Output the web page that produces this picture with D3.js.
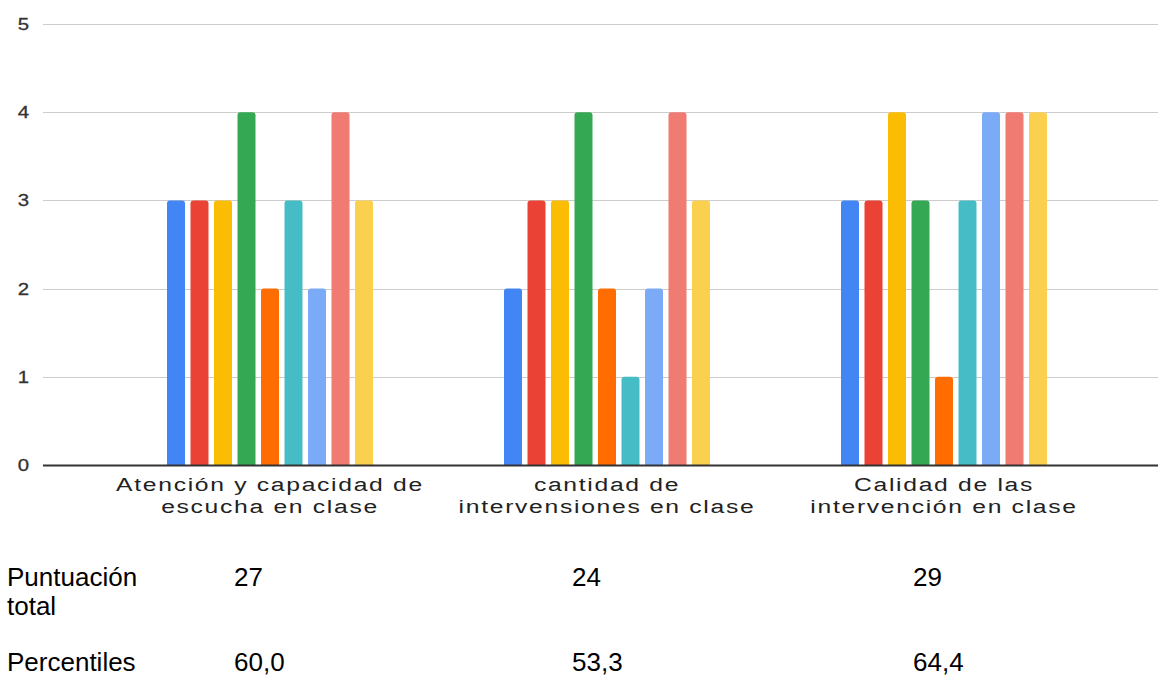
<!DOCTYPE html>
<html><head><meta charset="utf-8">
<script src="https://cdn.jsdelivr.net/npm/d3@7"></script>
<style>html,body{margin:0;padding:0;background:#fff;}svg{display:block;}</style>
</head><body>
<svg id="c" width="1158" height="676"></svg>
<script>
const categories = [
  ["Atención y capacidad de", "escucha en clase"],
  ["cantidad de", "intervensiones en clase"],
  ["Calidad de las", "intervención en clase"]
];
const s1 = [3, 2, 3];
const s2 = [3, 3, 3];
const s3 = [3, 3, 4];
const s4 = [4, 4, 3];
const s5 = [2, 2, 1];
const s6 = [3, 1, 3];
const s7 = [2, 2, 4];
const s8 = [4, 4, 4];
const s9 = [3, 3, 4];
const series = [s1, s2, s3, s4, s5, s6, s7, s8, s9];
const colors = ["#4285F4", "#EA4335", "#FBBC04", "#34A853", "#FF6D01", "#46BDC6", "#7BAAF7", "#F07B72", "#FCD04F"];
const yTicks = [0, 1, 2, 3, 4, 5];
const rowLabels = [["Puntuación", "total"], ["Percentiles"]];
const totals = ["27", "24", "29"];
const percentiles = ["60,0", "53,3", "64,4"];

(function () {
const svg = d3.select("#c");
const ff = "Liberation Sans, Arial, sans-serif";
const left = 43, right = 1158, plotTop = 24, base = 465;
const y = d3.scaleLinear().domain([0, 5]).range([base, plotTop]);
const x0 = d3.scaleBand().domain(d3.range(categories.length)).range([101.5, 1112.5]).paddingInner(0).paddingOuter(0);
const groupW = 206;
const x1 = d3.scaleBand().domain(d3.range(series.length)).range([0, groupW]).paddingInner(0.234).paddingOuter(0);

svg.append("g").selectAll("line").data(yTicks.filter(d => d > 0)).join("line")
  .attr("x1", left).attr("x2", right)
  .attr("y1", d => Math.round(y(d)) + 0.5).attr("y2", d => Math.round(y(d)) + 0.5)
  .attr("stroke", "#cccccc").attr("stroke-width", 1.2);

const yAxis = svg.append("g").attr("transform", `translate(29,0)`)
  .call(d3.axisLeft(y).tickValues(yTicks).tickFormat(d3.format("d")).tickSize(0).tickPadding(0));
yAxis.select(".domain").remove();
yAxis.selectAll("text").attr("font-family", ff)
  .attr("font-size", 17).attr("fill", "#333").attr("text-anchor", "end")
  .attr("stroke", "#333").attr("stroke-width", 0.3)
  .attr("transform", "scale(1.2,1)").attr("x", 0);

function barPath(x, yTop, w, h, r) {
  if (h <= 0) return "";
  r = Math.min(r, h, w / 2);
  return `M${x},${yTop + h}V${yTop + r}Q${x},${yTop} ${x + r},${yTop}H${x + w - r}Q${x + w},${yTop} ${x + w},${yTop + r}V${yTop + h}Z`;
}
const groups = svg.append("g").selectAll("g").data(categories).join("g")
  .attr("transform", (d, i) => `translate(${x0(i) + (x0.bandwidth() - groupW) / 2},0)`);
groups.selectAll("path").data((d, i) => series.map((s, j) => ({ v: s[i], j }))).join("path")
  .attr("d", d => barPath(x1(d.j), y(d.v), x1.bandwidth(), base - y(d.v), 3))
  .attr("fill", d => colors[d.j]);

svg.append("line").attr("x1", left).attr("x2", right).attr("y1", base + 0.5).attr("y2", base + 0.5)
  .attr("stroke", "#333").attr("stroke-width", 2);

const sx = 1.3;
categories.forEach((lines, i) => {
  const cx = x0(i) + x0.bandwidth() / 2;
  lines.forEach((t, k) => {
    svg.append("text").attr("transform", `translate(${cx},${491 + k * 22}) scale(${sx},1)`)
      .attr("text-anchor", "middle").attr("font-family", ff)
      .attr("font-size", 19).attr("letter-spacing", 1.3).attr("fill", "#222").text(t);
  });
});

const fs = 26;
rowLabels[0].forEach((t, k) => svg.append("text").attr("x", 7).attr("y", 586 + k * 29)
  .attr("font-family", ff).attr("font-size", fs).attr("fill", "#000").text(t));
rowLabels[1].forEach((t) => svg.append("text").attr("x", 7).attr("y", 671)
  .attr("font-family", ff).attr("font-size", fs).attr("fill", "#000").text(t));
const valX = [234, 572, 913];
totals.forEach((t, i) => svg.append("text").attr("x", valX[i]).attr("y", 586)
  .attr("font-family", ff).attr("font-size", fs).attr("fill", "#000").text(t));
percentiles.forEach((t, i) => svg.append("text").attr("x", valX[i]).attr("y", 671)
  .attr("font-family", ff).attr("font-size", fs).attr("fill", "#000").text(t));
})();
</script>
</body></html>
